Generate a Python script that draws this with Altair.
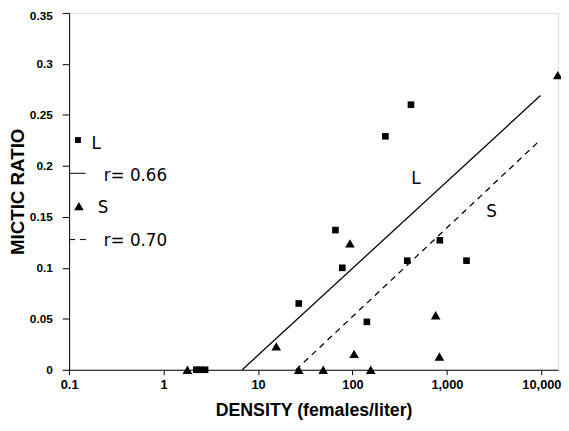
import altair as alt
import pandas as pd

# Data
L_density = [2.22, 2.44, 2.75, 27, 66, 78, 142, 223, 380, 416, 841, 1610]
L_ratio = [0, 0, 0, 0.065, 0.137, 0.100, 0.047, 0.229, 0.107, 0.260, 0.127, 0.107]
S_density = [1.79, 15.6, 27, 49, 94, 104, 156, 759, 832, 14900]
S_ratio = [0, 0.023, 0, 0, 0.124, 0.0155, 0, 0.0535, 0.013, 0.289]

# Regression lines (end points)
L_fit_x = [6.8, 9770]
L_fit_y = [0, 0.269]
S_fit_x = [25.2, 9770]
S_fit_y = [0, 0.2255]

x_ticks = [0.1, 1, 10, 100, 1000, 10000]
y_ticks = [0, 0.05, 0.1, 0.15, 0.2, 0.25, 0.3, 0.35]

FONT = "Liberation Sans"
TFONT = "DejaVu Sans"

xs = alt.Scale(type="log", domain=[0.1, 15000], nice=False)
ys = alt.Scale(domain=[0, 0.35], nice=False, zero=False)

xax = alt.Axis(values=x_ticks, title="DENSITY (females/liter)",
               labelExpr="datum.value < 1 ? '0.1' : format(datum.value, ',d')",
               labelFlush=False, labelOverlap=False,
               grid=False, tickSize=5, labelFontWeight="bold", labelFontSize=13,
               labelFont=FONT, titleFont=FONT, titleFontSize=18, titleFontWeight="bold",
               titlePadding=10, domainColor="black", tickColor="black", labelColor="black",
               titleColor="black", labelPadding=4)
yax = alt.Axis(values=y_ticks, title="MICTIC RATIO", format=".2~f",
               labelFlush=False, labelOverlap=False,
               labelOffset={"condition": {"test": "datum.value > 0.34", "value": 3}, "value": 0},
               grid=False, tickSize=7, labelFontWeight="bold", labelFontSize=12,
               labelFont=FONT, titleFont=FONT, titleFontSize=19, titleFontWeight="bold",
               titlePadding=2, domainColor="black", tickColor="black", labelColor="black",
               titleColor="black", labelPadding=10)

dfL = pd.DataFrame({"x": L_density, "y": L_ratio})
dfS = pd.DataFrame({"x": S_density, "y": S_ratio})
fitL = pd.DataFrame({"x": L_fit_x, "y": L_fit_y})
fitS = pd.DataFrame({"x": S_fit_x, "y": S_fit_y})

# Legend / annotation entries (in data coordinates)
leg_sq = pd.DataFrame({"x": [0.124], "y": [0.2253]})
leg_tri = pd.DataFrame({"x": [0.127], "y": [0.1605]})
leg_lineL = pd.DataFrame({"x": [0.1, 0.15], "y": [0.1927, 0.1927]})
leg_lineS = pd.DataFrame({"x": [0.1, 0.154], "y": [0.1277, 0.1277]})
labels = pd.DataFrame({
    "x": [0.1726, 0.232, 0.201, 0.232, 419, 2600],
    "y": [0.2215, 0.1898, 0.1583, 0.126, 0.1867, 0.155],
    "t": ["L", "r= 0.66", "S", "r= 0.70", "L", "S"],
})

X = alt.X("x:Q", scale=xs, axis=xax)
Y = alt.Y("y:Q", scale=ys, axis=yax)

pL = alt.Chart(dfL).mark_point(shape="square", filled=True, size=45, color="black", opacity=1).encode(x=X, y=Y)
pS = alt.Chart(dfS).mark_point(shape="triangle-up", filled=True, size=95, color="black", opacity=1).encode(x=X, y=Y)
lL = alt.Chart(fitL).mark_line(color="black", strokeWidth=1.3).encode(x=X, y=Y)
lS = alt.Chart(fitS).mark_line(color="black", strokeWidth=1.3, strokeDash=[6, 5]).encode(x=X, y=Y)
gsq = alt.Chart(leg_sq).mark_point(shape="square", filled=True, size=36, color="black", opacity=1).encode(x=X, y=Y)
gtri = alt.Chart(leg_tri).mark_point(shape="triangle-up", filled=True, size=95, color="black", opacity=1).encode(x=X, y=Y)
glL = alt.Chart(leg_lineL).mark_line(color="black", strokeWidth=1).encode(x=X, y=Y)
glS = alt.Chart(leg_lineS).mark_line(color="black", strokeWidth=1, strokeDash=[6, 5]).encode(x=X, y=Y)
txt = alt.Chart(labels).mark_text(align="left", baseline="middle", fontSize=17, font=TFONT, color="black").encode(x=X, y=Y, text="t:N")

chart = alt.layer(lL, lS, pL, pS, gsq, gtri, glL, glS, txt).properties(
    width=496, height=362,
    autosize=alt.AutoSizeParams(type="none"),
    padding={"left": 62, "top": 2, "right": 3, "bottom": 50},
).configure_view(stroke="black", strokeWidth=1).configure(background="white")

chart.save("out.html", embed_options={"renderer": "svg", "actions": False})
